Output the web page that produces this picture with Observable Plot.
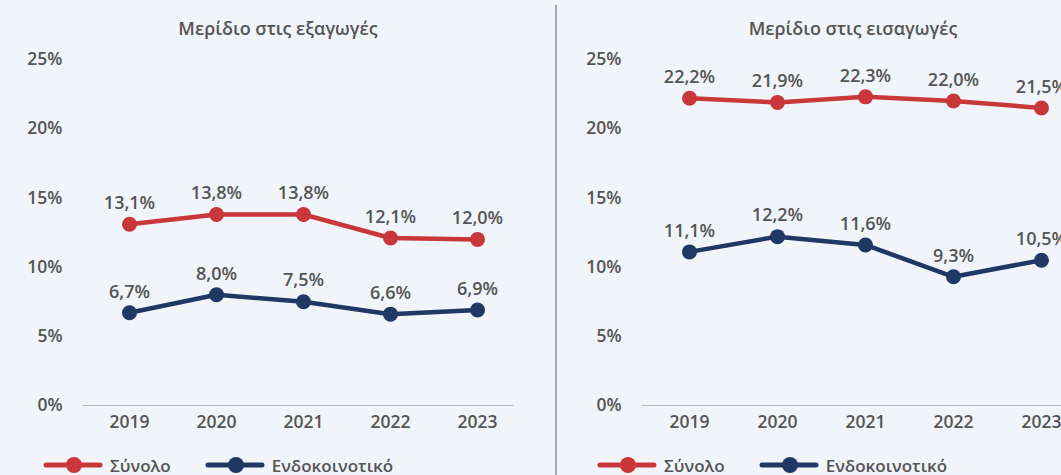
<!DOCTYPE html>
<html>
<head>
<meta charset="utf-8">
<script src="https://cdn.jsdelivr.net/npm/d3@7"></script>
<script src="https://cdn.jsdelivr.net/npm/@observablehq/plot@0.6"></script>
<style>
  html, body { margin: 0; padding: 0; background: #f1f4f9; }
  #wrap { position: relative; width: 1061px; height: 475px; overflow: hidden; background: #f1f4f9;
          font-family: "Open Sans", sans-serif; color: #555; }
  .panel { position: absolute; top: 0; }
  .title { position: absolute; left: 0; right: 0; top: 16px; text-align: center; font-size: 18px;
           font-weight: 600; line-height: 24px; color: #555; }
  .chart { position: absolute; left: 0; top: 45px; }
  .chart svg text { font-weight: 600; }
  .legend { position: absolute; top: 453px; height: 24px; display: flex; align-items: center;
            font-size: 17px; font-weight: 600; color: #555; }
  .legend .item { display: flex; align-items: center; margin-right: 34px; }
  .legend svg { margin-right: 7px; }
  .sep { position: absolute; left: 555px; top: 5px; width: 2px; height: 470px; background: #ababab; }
</style>
</head>
<body>
<div id="wrap"></div>
<script>
const years = ["2019", "2020", "2021", "2022", "2023"];
const exportsTotal = [13.1, 13.8, 13.8, 12.1, 12.0];
const exportsIntra = [6.7, 8.0, 7.5, 6.6, 6.9];
const importsTotal = [22.2, 21.9, 22.3, 22.0, 21.5];
const importsIntra = [11.1, 12.2, 11.6, 9.3, 10.5];
const yTicks = [0, 5, 10, 15, 20, 25];
const seriesNames = ["Σύνολο", "Ενδοκοινοτικό"];
const seriesColors = ["#c9373a", "#1f3864"];
const titles = ["Μερίδιο στις εξαγωγές", "Μερίδιο στις εισαγωγές"];

const fmt = v => v.toFixed(1).replace(".", ",") + "%";
const rows = (vals, name) => years.map((year, i) => ({year, value: vals[i], series: name}));

function makeChart(total, intra, width, marginLeft, marginRight, xRange) {
  const marks = [Plot.ruleY([0], {stroke: "#b8b8b8", strokeWidth: 1})];
  [[total, 0], [intra, 1]].forEach(([vals, k]) => {
    const data = rows(vals, seriesNames[k]);
    const c = seriesColors[k];
    marks.push(
      Plot.lineY(data, {x: "year", y: "value", stroke: c, strokeWidth: 4.5}),
      Plot.dot(data, {x: "year", y: "value", r: 7.5, fill: c}),
      Plot.text(data, {x: "year", y: "value", text: d => fmt(d.value), dy: -21,
                       fill: "#555", fontSize: 18, fontWeight: 500})
    );
  });
  marks.push(
    Plot.axisX({tickSize: 0, tickPadding: 10, label: null, fill: "#555", fontSize: 17.5}),
    Plot.axisY({ticks: yTicks, tickSize: 0, tickPadding: 21, label: null,
                tickFormat: d => d + "%", fill: "#555", fontSize: 17.5})
  );
  return Plot.plot({
    width, height: 395,
    marginTop: 14, marginBottom: 35, marginLeft, marginRight,
    style: {background: "transparent", fontFamily: "Open Sans, sans-serif", color: "#555"},
    x: {type: "point", domain: years, range: xRange, padding: 0},
    y: {domain: [0, 25]},
    marks
  });
}

function legend() {
  const div = document.createElement("div");
  div.className = "legend";
  seriesNames.forEach((name, k) => {
    const item = document.createElement("div");
    item.className = "item";
    const svg = d3.create("svg").attr("width", 60).attr("height", 20);
    svg.append("line").attr("x1", 3).attr("x2", 57).attr("y1", 10).attr("y2", 10)
      .attr("stroke", seriesColors[k]).attr("stroke-width", 5).attr("stroke-linecap", "round");
    svg.append("circle").attr("cx", 31).attr("cy", 10).attr("r", 8).attr("fill", seriesColors[k]);
    item.appendChild(svg.node());
    const span = document.createElement("span");
    span.textContent = name;
    item.appendChild(span);
    div.appendChild(item);
  });
  return div;
}

const wrap = document.getElementById("wrap");
const panels = [
  {left: 0, width: 556, total: exportsTotal, intra: exportsIntra, ml: 83, mr: 42, xr: [128.3, 477.7], lg: 43},
  {left: 557, width: 592, total: importsTotal, intra: importsIntra, ml: 85, mr: 50, xr: [131, 485.5], lg: 40}
];
panels.forEach((p, i) => {
  const el = document.createElement("div");
  el.className = "panel";
  el.style.left = p.left + "px";
  el.style.width = p.width + "px";
  el.style.height = "475px";
  const t = document.createElement("div");
  t.className = "title";
  t.textContent = titles[i];
  el.appendChild(t);
  const c = document.createElement("div");
  c.className = "chart";
  c.appendChild(makeChart(p.total, p.intra, p.width, p.ml, p.mr, p.xr));
  el.appendChild(c);
  const lg = legend();
  lg.style.left = p.lg + "px";
  el.appendChild(lg);
  wrap.appendChild(el);
});
const sep = document.createElement("div");
sep.className = "sep";
wrap.appendChild(sep);
</script>
</body>
</html>
